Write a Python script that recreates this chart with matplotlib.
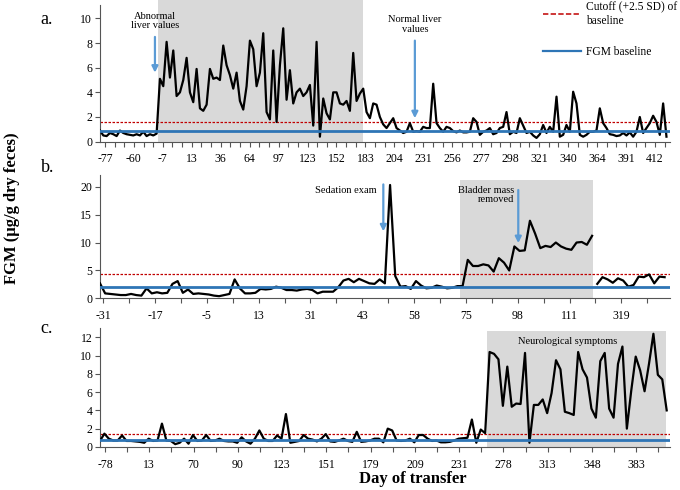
import numpy as np
import matplotlib.pyplot as plt
from matplotlib.lines import Line2D

plt.rcParams['font.family'] = ['Liberation Serif', 'DejaVu Serif']

# ---- panel a ----
a_labels = ['-77', '-60', '-7', '13', '36', '64', '97', '123', '152', '183',
            '204', '231', '256', '277', '298', '321', '340', '364', '391', '412']
a_fgm = [0.9, 0.5, 0.45, 0.7, 0.6, 0.45, 0.9, 0.7, 0.6, 0.55, 0.5, 0.6, 0.5, 0.8,
         0.45, 0.6, 0.5, 0.65, 5.1, 4.5, 8.1, 5.2, 7.4, 3.7, 4.0, 5.0, 6.8, 4.0,
         3.2, 5.9, 2.7, 2.5, 3.0, 5.9, 5.1, 5.2, 5.0, 7.8, 6.2, 5.4, 4.3, 5.6,
         3.3, 2.6, 4.5, 8.2, 7.5, 4.5, 5.6, 8.8, 2.4, 1.8, 7.4, 1.6, 6.2, 9.2,
         3.4, 5.8, 3.1, 4.0, 4.3, 3.7, 4.0, 4.6, 1.3, 8.1, 0.4, 3.5, 2.3, 1.8,
         4.0, 4.0, 3.1, 3.0, 3.3, 2.5,
         7.2, 3.3, 3.9, 4.3, 2.4, 1.9, 3.1, 3.0, 2.0, 1.4, 1.1, 1.5, 1.9, 1.1,
         0.9, 0.7, 0.8, 1.5, 0.8, 0.85, 0.8, 1.2, 1.1, 1.1, 4.7, 1.5, 1.1, 0.8,
         1.2, 1.1, 0.85, 0.75, 0.9, 0.75, 0.75, 0.8, 1.9, 1.6, 0.55, 0.8, 0.9,
         1.1, 0.6, 0.7, 1.1, 1.2, 2.4, 0.6, 0.8, 0.7, 1.9, 1.3, 0.7, 0.8, 0.5,
         0.3, 0.6, 1.35, 0.7, 1.2, 0.8, 3.65, 0.4, 0.55, 1.35, 0.8, 4.05, 3.1,
         0.55, 0.4, 0.55, 0.8, 0.8, 0.9, 2.7, 1.5, 1.1, 0.6, 0.55, 0.45, 0.5,
         0.7, 0.5, 0.75, 0.4, 0.8, 2.0, 0.7, 1.1, 1.5, 2.1, 1.6, 0.55, 3.1, 0.4]
a_baseline = 0.85
a_cutoff = 1.6

# ---- panel b ----
b_labels = ['-31', '-17', '-5', '13', '31', '43', '58', '75', '98', '111', '319']
b_fgm_1 = [2.7, 0.9, 0.8, 0.7, 0.6, 0.6, 0.8, 0.6, 0.5, 1.8, 0.9, 1.1, 0.9, 1.0,
           2.6, 3.1, 1.0, 1.6, 0.8, 0.9, 0.8, 0.7, 0.5, 0.4, 0.6, 0.8, 3.4, 1.8,
           0.9, 0.9, 1.0, 1.7, 1.6, 1.7, 2.1, 1.9, 1.5, 1.5, 1.4, 1.6, 1.7, 1.5,
           0.9, 1.2, 1.2, 1.2, 2.0, 3.2, 3.5, 2.9, 3.5, 3.1, 2.7, 2.6, 3.4, 2.7,
           20.3, 4.0, 2.1, 2.2, 1.7, 3.1, 2.3, 1.8, 1.9, 2.3, 2.1, 1.8, 1.9, 2.2,
           2.2, 6.9, 5.8, 5.8, 6.1, 5.9, 4.8, 7.2, 6.4, 5.0, 9.3, 8.5, 8.6, 13.9,
           11.6, 9.0, 9.4, 9.2, 10.0, 9.3, 8.9, 8.7, 10.0, 10.1, 9.6, 11.2]
b_fgm_2 = [2.6, 3.8, 3.4, 2.8, 3.6, 3.2, 2.1, 2.4, 3.9, 3.8, 4.3, 2.7, 3.9, 3.8]
b_baseline = 2.05
b_cutoff = 4.45

# ---- panel c ----
c_labels = ['-78', '13', '70', '90', '123', '151', '179', '209', '231', '278',
            '313', '348', '383']
c_fgm = [0.65, 1.45, 0.9, 0.7, 0.7, 1.25, 0.65, 0.65, 0.6, 0.55, 0.45, 0.9, 0.65,
         0.7, 2.55, 0.7, 0.65, 0.3, 0.45, 0.9, 0.35, 1.3, 0.65, 0.7, 1.3, 0.65,
         0.7, 0.9, 0.65, 0.6, 0.6, 0.45, 1.05, 0.6, 0.35, 0.9, 1.8, 0.9, 0.65,
         0.65, 1.25, 0.9, 3.6, 0.45, 0.55, 0.65, 1.3, 0.9, 0.8, 0.6, 0.9, 1.4,
         0.6, 0.55, 0.7, 0.9, 0.65, 0.55, 1.65, 0.55, 0.6, 0.7, 0.9, 0.9, 0.5,
         2.0, 1.8, 0.7, 0.65, 0.7, 0.9, 0.5, 1.3, 1.3, 0.9, 0.65, 0.7, 0.5, 0.5,
         0.55, 0.7, 0.9, 0.95, 1.0, 3.0, 0.45, 1.9, 1.5, 10.4, 10.2, 9.6, 4.5,
         8.8, 4.4, 4.75, 4.7, 10.3, 0.45, 4.6, 4.6, 5.2, 3.7, 5.9, 9.5, 8.5,
         3.85, 3.7, 3.5, 10.4, 8.5, 7.6, 4.2, 3.2, 9.4, 10.3, 4.2, 3.2, 9.1,
         11.0, 2.0, 6.2, 9.9, 8.4, 6.1, 9.1, 12.4, 7.9, 7.4, 4.0]
c_baseline = 0.8
c_cutoff = 1.45

black = '#000000'
blue = '#2e75b6'
red = '#c00000'
arrow_c = '#5b9bd5'
shade = '#d9d9d9'
tick_fs = 8.5
note_fs = 7.5
cut_ls = (0, (2, 1.2))

fig = plt.figure(figsize=(6.8, 4.9), dpi=100)
ax_a = fig.add_axes([0.147, 0.711, 0.838, 0.279])
ax_b = fig.add_axes([0.147, 0.391, 0.838, 0.252])
ax_c = fig.add_axes([0.147, 0.088, 0.838, 0.242])


def style(ax, labels, first, step, n_minor, xmax, ymax, yticks):
    ax.set_xlim(0, xmax)
    ax.set_ylim(0, ymax)
    major = first + step * np.arange(len(labels))
    ax.set_xticks(major)
    ax.set_xticklabels(labels, fontsize=tick_fs)
    minor = []
    for m in major:
        for j in range(1, n_minor):
            minor.append(m + step * j / n_minor)
    ax.set_xticks([v for v in minor if v < xmax], minor=True)
    ax.set_yticks(yticks)
    ax.set_yticklabels([str(t) for t in yticks], fontsize=tick_fs)
    ax.tick_params(axis='both', which='both', direction='out', length=3.5,
                   width=0.8, color='#555555', pad=2)
    ax.tick_params(axis='x', which='major', pad=5)
    for s in ['top', 'right']:
        ax.spines[s].set_visible(False)
    for s in ['left', 'bottom']:
        ax.spines[s].set_color('#555555')
        ax.spines[s].set_linewidth(0.8)
    ax.patch.set_alpha(0)


def arrow(ax, x, y_from, y_to):
    ax.annotate('', xy=(x, y_to), xytext=(x, y_from),
                arrowprops=dict(arrowstyle='-|>', color=arrow_c, lw=1.6,
                                mutation_scale=9, shrinkA=0, shrinkB=0))


# panel a
xa = np.arange(len(a_fgm))
ax_a.axvspan(17.5, 79, ymin=0, ymax=1.05, color=shade, lw=0, clip_on=False, zorder=0)
ax_a.plot(xa, a_fgm, color=black, lw=1.6, zorder=3)
ax_a.axhline(a_baseline, color=blue, lw=2.0, zorder=4)
ax_a.axhline(a_cutoff, color=red, lw=0.9, ls=cut_ls, zorder=2)
style(ax_a, a_labels, 1.5, 8.685, 3, 171, 11.1, [0, 2, 4, 6, 8, 10])
ax_a.text(16.5, 9.8, 'Abnormal\nliver values', fontsize=note_fs, ha='center',
          va='center', linespacing=1.1)
arrow(ax_a, 16.5, 8.5, 5.6)
ax_a.text(94.5, 9.5, 'Normal liver\nvalues', fontsize=note_fs, ha='center',
          va='center', linespacing=1.1)
arrow(ax_a, 94.5, 8.2, 1.9)

leg_handles = [Line2D([], [], color=red, lw=1.1, ls=(0, (3.5, 1.5))),
               Line2D([], [], color=blue, lw=1.6)]
leg_labels = ['Cutoff (+2.5 SD) of\nbaseline', 'FGM baseline']
ax_a.legend(leg_handles, leg_labels, loc='upper left',
            bbox_to_anchor=(543 / 680, 1 - 1 / 490), bbox_transform=fig.transFigure,
            frameon=False, fontsize=8.3, handlelength=3.3, handletextpad=0.45,
            labelspacing=1.7, borderpad=0, borderaxespad=0)

# panel b
xb1 = np.arange(len(b_fgm_1))
xb2 = len(b_fgm_1) + np.arange(len(b_fgm_2))
ax_b.axvspan(69.5, 95.1, ymin=0, ymax=21.2 / 22.1, color=shade, lw=0, zorder=0)
ax_b.plot(xb1, b_fgm_1, color=black, lw=1.6, zorder=3)
ax_b.plot(xb2, b_fgm_2, color=black, lw=1.6, zorder=3)
ax_b.axhline(b_baseline, color=blue, lw=2.0, zorder=4)
ax_b.axhline(b_cutoff, color=red, lw=0.9, ls=cut_ls, zorder=2)
style(ax_b, b_labels, 0.64, 10, 2, 110, 22.1, [0, 5, 10, 15, 20])
ax_b.text(53.4, 19.4, 'Sedation exam', fontsize=note_fs, ha='right', va='center')
arrow(ax_b, 54.7, 20.4, 12.0)
ax_b.text(80.0, 18.5, 'Bladder mass\nremoved', fontsize=note_fs, ha='right',
          va='center', multialignment='right', linespacing=1.1)
arrow(ax_b, 80.75, 19.4, 9.9)

# panel c
xc = np.arange(len(c_fgm))
ax_c.axvspan(87.4, 127.9, ymin=0, ymax=12.7 / 13.0, color=shade, lw=0, zorder=0)
ax_c.plot(xc, c_fgm, color=black, lw=1.6, zorder=3)
ax_c.axhline(c_baseline, color=blue, lw=2.0, zorder=4)
ax_c.axhline(c_cutoff, color=red, lw=0.9, ls=cut_ls, zorder=2)
style(ax_c, c_labels, 1.13, 10, 2, 128.7, 13.0, [0, 2, 4, 6, 8, 10, 12])
ax_c.text(105.7, 11.6, 'Neurological symptoms', fontsize=note_fs, ha='center',
          va='center')

# panel letters and axis titles
fig.text(47 / 680, 1 - 20 / 490, 'a.', fontsize=13, ha='center', va='center')
fig.text(48 / 680, 1 - 168 / 490, 'b.', fontsize=13, ha='center', va='center')
fig.text(47 / 680, 1 - 328 / 490, 'c.', fontsize=13, ha='center', va='center')
fig.text(12 / 680, 1 - 208 / 490, 'FGM (µg/g dry feces)', fontsize=12,
         fontweight='bold', rotation=90, ha='center', va='center')
fig.text(413 / 680, 1 - 479 / 490, 'Day of transfer', fontsize=12,
         fontweight='bold', ha='center', va='center')

fig.savefig('out.png', dpi=100)
